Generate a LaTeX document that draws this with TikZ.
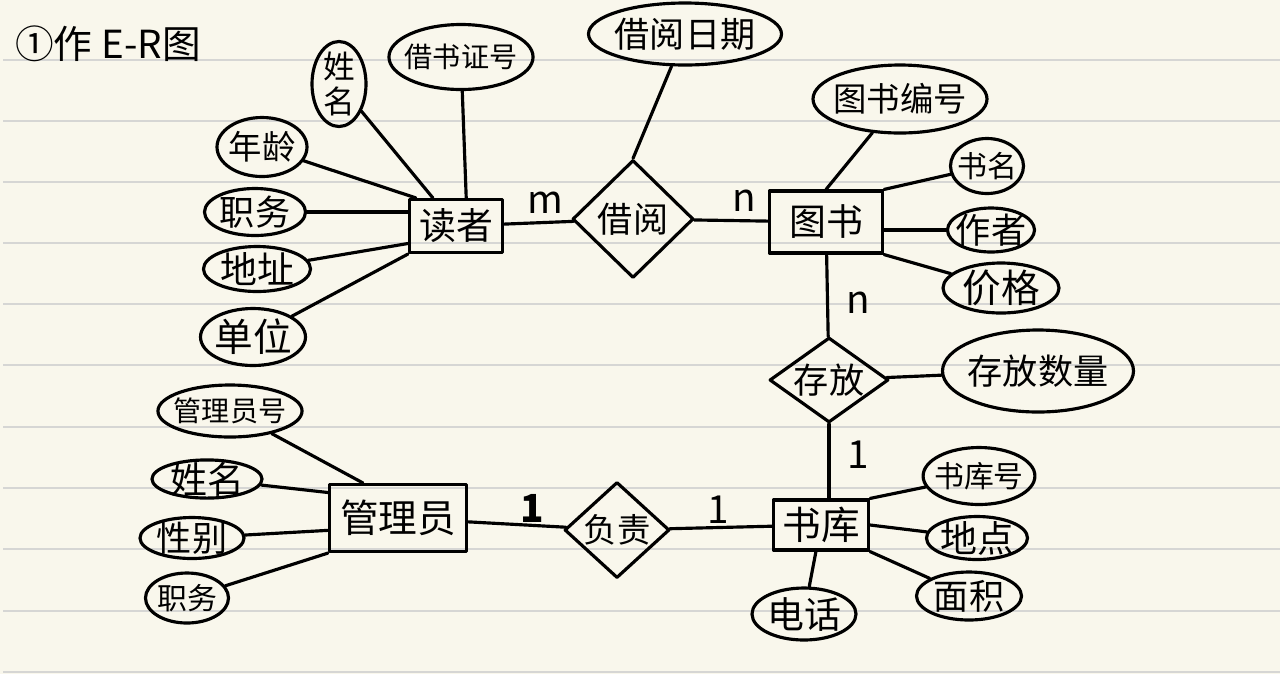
\documentclass[tikz,border=0pt]{standalone}
\usepackage{fontspec}
\newfontfamily\cjk{Noto Sans CJK SC}
\usetikzlibrary{shapes.geometric}
\definecolor{paper}{RGB}{249,247,236}
\definecolor{ruling}{RGB}{214,214,212}
\tikzset{
	ink/.style={line width=1.8pt,line cap=round,line join=round},
	sz/.style 2 args={minimum width=#1*0.02cm,minimum height=#2*0.02cm},
	fs/.style={font=\cjk\fontsize{#1}{#1}\selectfont},
	attr/.style={ellipse,draw,ink,inner xsep=-3pt,inner ysep=-2pt,fs=20},
	ent/.style={rectangle,draw,ink,inner sep=0pt,fs=21},
	rel/.style={diamond,draw,ink,inner sep=0pt,fs=20},
	card/.style={fs=22}
}
\begin{document}
\begin{tikzpicture}[x=0.02cm,y=-0.02cm]
	\useasboundingbox (0,0) rectangle (1280,674);
	\fill[paper] (0,0) rectangle (1280,674);
	\foreach \Y in {60,121,182,243,304,365,427,488,549,611,672} {
		\draw[ruling,line width=1.6pt] (3,\Y) -- (1280,\Y);}
	\node[fs=22] (title) at (108,44) {①作 E-R图};

	% 读者
	\node[ent,sz={93}{53}] (rd) at (456,226) {读者};
	\node[attr,sz={54}{85},align=center,font=\cjk\fontsize{18}{20}\selectfont] (rdxm) at (339,84) {姓\\名};
	\node[attr,sz={143}{65},fs=16] (rdzh) at (461,57) {借书证号};
	\node[attr,sz={90}{59},fs=19] (rdnl) at (262,147) {年龄};
	\node[attr,sz={101}{47}] (rdzw) at (255,212) {职务};
	\node[attr,sz={107}{45},fs=21] (rddz) at (257,269) {地址};
	\node[attr,sz={105}{57},fs=22] (rddw) at (253,337) {单位};
	\draw[ink] (rdxm) -- (rd);
	\draw[ink] (rdzh) -- (rd.70);
	\draw[ink] (rdnl) -- (rd.145);
	\draw[ink] (rdzw) -- (rdzw -| rd.west);
	\draw[ink] (rddz) -- (rd.200);
	\draw[ink] (rddw) -- (rd.south west);

	% 借阅
	\node[rel,sz={121}{118}] (jy) at (633,219) {借阅};
	\node[attr,sz={193}{62}] (jyrq) at (685,34) {借阅日期};
	\draw[ink] (rd) -- (jy);
	\draw[ink] (jyrq) -- (jy.north);
	\node[card] (m1) at (545,203) {m};
	\node[card] (n1) at (744,201) {n};

	% 图书
	\node[ent,sz={113}{62}] (ts) at (826,222) {图书};
	\node[attr,sz={174}{68},fs=19] (tsbh) at (900,99) {图书编号};
	\node[attr,sz={73}{55},fs=17] (tssm) at (987,166) {书名};
	\node[attr,sz={87}{44}] (tszz) at (991,230) {作者};
	\node[attr,sz={116}{50},fs=22] (tsjg) at (1001,288) {价格};
	\draw[ink] (jy) -- (ts);
	\draw[ink] (tsbh) -- (ts.north);
	\draw[ink] (tssm) -- (ts.north east);
	\draw[ink] (tszz) -- (tszz -| ts.east);
	\draw[ink] (tsjg) -- (ts.south east);

	% 存放
	\node[rel,shape aspect=1.4,sz={119}{85}] (cf) at (829,380) {存放};
	\node[attr,sz={191}{82}] (cfsl) at (1038,371) {存放数量};
	\draw[ink] (ts) -- (cf);
	\draw[ink] (cf) -- (cfsl);
	\node[card] (n2) at (858,303) {n};
	\node[card] (c1) at (858,455) {1};

	% 书库
	\node[ent,sz={95}{50},fs=22] (sk) at (821,525) {书库};
	\node[attr,sz={110}{57},fs=17] (skh) at (979,476) {书库号};
	\node[attr,sz={101}{43},fs=21] (skdd) at (977,538) {地点};
	\node[attr,sz={105}{48}] (skmj) at (969,596) {面积};
	\node[attr,sz={104}{52},fs=21] (skdh) at (804,614) {电话};
	\draw[ink] (cf.south) -- (cf.south |- sk.north);
	\draw[ink] (sk.north east) -- (skh);
	\draw[ink] (sk.east) -- (skdd);
	\draw[ink] (sk.south east) -- (skmj);
	\draw[ink] (sk) -- (skdh);

	% 负责
	\node[rel,shape aspect=1.1,sz={105}{96},fs=19] (fz) at (617,530) {负责};
	\draw[ink] (fz) -- (sk);
	\node[card] (c2) at (718,510) {1};

	% 管理员
	\node[ent,sz={137}{67},fs=22] (gly) at (398,518) {管理员};
	\node[attr,sz={144}{52},fs=16] (glyh) at (230,411) {管理员号};
	\node[attr,sz={110}{38},fs=21] (glyxm) at (207,479) {姓名};
	\node[attr,sz={104}{41}] (glyxb) at (192,538) {性别};
	\node[attr,sz={83}{50},fs=17] (glyzw) at (187,598) {职务};
	\draw[ink] (gly) -- (fz);
	\draw[ink] (glyh) -- (gly.135);
	\draw[ink] (glyxm) -- (gly.160);
	\draw[ink] (glyxb) -- (gly.190);
	\draw[ink] (glyzw) -- (gly.south west);
	\node[card,font=\cjk\bfseries\fontsize{22}{22}\selectfont] (c3) at (532,508) {1};
\end{tikzpicture}
\end{document}
